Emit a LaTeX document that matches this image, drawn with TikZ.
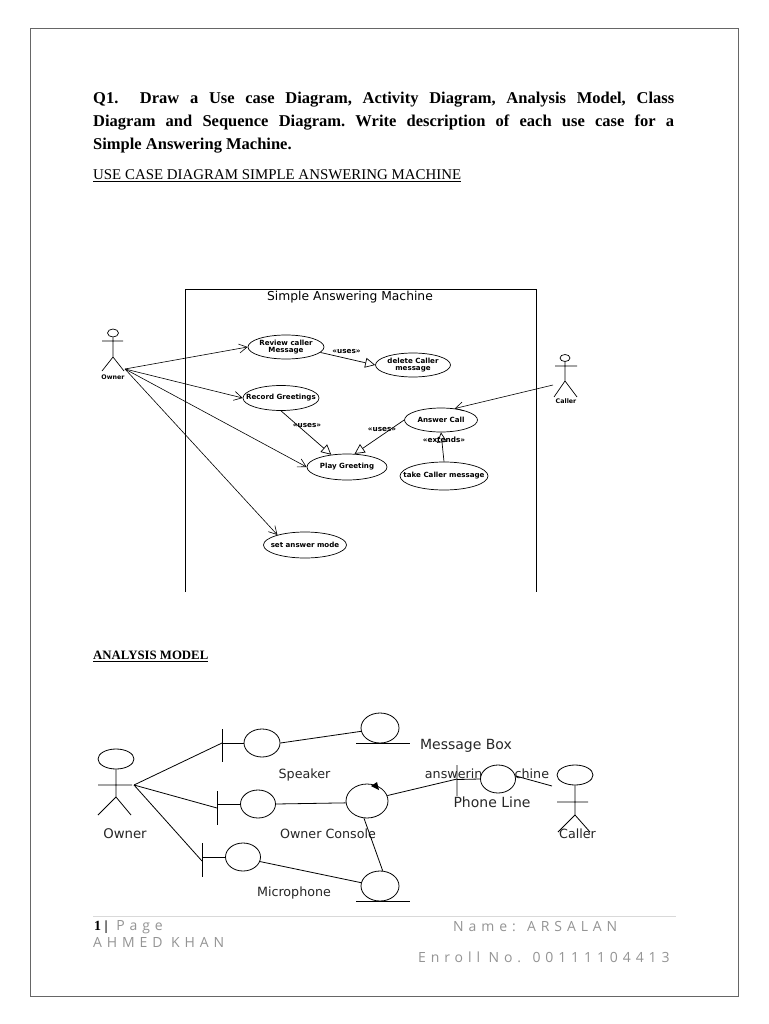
\documentclass[tikz,border=0pt]{standalone}
\usepackage{fontspec}
\usetikzlibrary{shapes.geometric,arrows.meta}
\setmainfont{Liberation Serif}
\newfontfamily\djvu{DejaVu Sans}
\newfontfamily\spacedfont[LetterSpace=35]{Open Sans}
\definecolor{footgray}{gray}{0.58}
\tikzset{
 uc/.style={draw,ellipse,inner sep=0pt,line width=0.7pt,fill=white},
 uctext/.style={inner sep=0pt,align=center,font=\djvu\bfseries\fontsize{7.1}{7.2}\selectfont},
 umllabel/.style={inner sep=0pt,font=\djvu\bfseries\fontsize{7.3}{8}\selectfont},
 actorlabel/.style={inner sep=0pt,font=\djvu\bfseries\fontsize{6.3}{7}\selectfont},
 lbl/.style={inner sep=0pt,font=\djvu\fontsize{14}{16}\selectfont,text=black!85},
 lbls/.style={inner sep=0pt,font=\djvu\fontsize{12.7}{14}\selectfont,text=black!85},
 thin line/.style={line width=0.7pt},
 rob/.style={draw,ellipse,inner sep=0pt,line width=0.8pt,fill=white},
 robl/.style={line width=0.8pt},
 openarrow/.style={-{Straight Barb[length=8pt,width=9pt]},line width=0.6pt},
 hollow/.style={-{Triangle[open,length=10pt,width=10pt,fill=white]},line width=0.7pt},
 foot/.style={inner sep=0pt,anchor=west,text=footgray,font=\spacedfont\fontsize{14}{15}\selectfont},
}
\begin{document}
\begin{tikzpicture}[x=1pt,y=-1pt]
\useasboundingbox (0,0) rectangle (768,1024);
\fill[white] (0,0) rectangle (768,1024);
\draw[black!60,line width=0.7pt] (30,28) rectangle (738,996);

% heading
\node[inner sep=0pt,anchor=north west,text width=581pt,align=justify,font=\bfseries\fontsize{16.5}{23.2}\selectfont] (q) at (93,91.5)
 {\frenchspacing Q1.\ \ Draw a Use case Diagram, Activity Diagram, Analysis Model, Class\linebreak Diagram and Sequence Diagram. Write description of each use case for a\linebreak Simple Answering Machine.};
\node[inner sep=0pt,anchor=west,font=\fontsize{14.9}{16}\selectfont] (h1) at (93,175.5) {\underline{USE CASE DIAGRAM SIMPLE ANSWERING MACHINE}};
\node[inner sep=0pt,anchor=west,font=\bfseries\fontsize{12.8}{14}\selectfont] (h2) at (93,656) {\underline{ANALYSIS MODEL}};

% use case frame
\draw[line width=0.9pt] (185.5,592) -- (185.5,289.5) -- (536,289.5) -- (536,592);
\node[inner sep=0pt,font=\djvu\fontsize{12.3}{13}\selectfont] (sys) at (350,297.5) {Simple Answering Machine};

% owner actor, upper
\node[draw,ellipse,inner sep=0pt,minimum width=11pt,minimum height=8pt,line width=0.7pt] (oh) at (113,333) {};
\draw[thin line] (oh.south) -- (113,357) (102,341) -- (123,341) (102,371) -- (113,357) -- (124,371);
\node[actorlabel] (ol) at (113,377) {Owner};
\coordinate (ohand) at (125,369);

% caller actor, upper
\node[draw,ellipse,inner sep=0pt,minimum width=10pt,minimum height=7pt,line width=0.7pt] (ch) at (565,358) {};
\draw[thin line] (ch.south) -- (565,381) (555,366) -- (577,366) (554,397) -- (565,381) -- (577,397);
\node[actorlabel] (cl) at (566,401.5) {Caller};
\coordinate (chand) at (553,385);

% use cases
\node[uc,minimum width=76pt,minimum height=24pt,label={[uctext]center:{Review caller\\Message}}] (review) at (286,347) {};
\node[uc,minimum width=75pt,minimum height=24pt,label={[uctext]center:{delete Caller\\message}}] (delete) at (413,365) {};
\node[uc,minimum width=76pt,minimum height=25pt,label={[uctext]center:{Record Greetings}}] (record) at (281,398) {};
\node[uc,minimum width=80pt,minimum height=26pt,label={[uctext]center:{Play Greeting}}] (play) at (347,467) {};
\node[uc,minimum width=73pt,minimum height=24pt,label={[uctext]center:{Answer Call}}] (answer) at (441,420) {};
\node[uc,minimum width=88pt,minimum height=28pt,label={[uctext]center:{take Caller message}}] (take) at (444,476) {};
\node[uc,minimum width=83pt,minimum height=26pt,label={[uctext]center:{set answer mode}}] (setmode) at (305,545) {};

\draw[openarrow] (ohand) -- (review.west);
\draw[openarrow] (ohand) -- (record.west);
\draw[openarrow] (ohand) -- (play.west);
\draw[openarrow] (ohand) -- (setmode.160);
\draw[openarrow] (chand) -- (answer.40);
\draw[hollow] (review.-9) -- (delete.west);
\draw[hollow] (record.-90) -- (play.142);
\draw[hollow] (answer.west) -- (play.60);
\draw[hollow] (take.north) -- (answer.south);
\node[umllabel] (u1) at (346.5,352) {«uses»};
\node[umllabel] (u2) at (307,426) {«uses»};
\node[umllabel] (u3) at (382,430) {«uses»};
\node[umllabel] (u4) at (444,439.5) {«extends»};

% analysis model: owner
\node[rob,minimum width=36pt,minimum height=20pt] (aoh) at (116,759) {};
\draw[robl] (aoh.south) -- (116,797) (98,785) -- (132,785) (98,815) -- (116,797) -- (131,815);
\coordinate (ahub) at (134,785);
\node[lbl,font=\djvu\fontsize{13.3}{15}\selectfont] (aol) at (125,834) {Owner};

% boundaries
\node[rob,minimum width=36pt,minimum height=28pt] (spk) at (262,743) {};
\draw[robl] (222,729) -- (222,762) (222,743) -- (spk.west);
\coordinate (spkb) at (222,743);
\node[rob,minimum width=35pt,minimum height=28pt] (con) at (258,804) {};
\draw[robl] (217,791) -- (217,825) (217,804) -- (con.west);
\coordinate (conb) at (217,808);
\node[rob,minimum width=35pt,minimum height=28pt] (mic) at (243,857) {};
\draw[robl] (202,843) -- (202,877) (202,857) -- (mic.west);
\coordinate (micb) at (202,861);
\draw[robl] (ahub) -- (spkb);
\draw[robl] (ahub) -- (conb);
\draw[robl] (ahub) -- (micb);

% entities and control
\node[rob,minimum width=38pt,minimum height=30pt] (msg) at (380,728) {};
\draw[robl] (356,743) -- (410,743);
\node[rob,minimum width=38pt,minimum height=30pt] (ent) at (380,886) {};
\draw[robl] (356,901) -- (410,901);
\node[rob,minimum width=42pt,minimum height=34pt] (ctl) at (367,801) {};
\fill (377,782) -- (379,790) -- (371,786) -- cycle;

% labels
\node[lbl] (lmsg) at (466,745.5) {Message Box};
\node[lbls] (lspk) at (304.5,774.5) {Speaker};
\node[lbls] (lcon) at (328,834) {Owner Console};
\node[lbls] (lmic) at (294,893) {Microphone};
\node[lbls] (lans) at (487,774.5) {answering machine};

% phone line boundary
\node[rob,minimum width=35pt,minimum height=28pt] (phone) at (498,779) {};
\draw[robl] (457,765) -- (457,796) (457,779.5) -- (phone.west);
\coordinate (phoneb) at (457,779);
\node[lbl] (lph) at (492,802.5) {Phone Line};

% caller, lower
\node[rob,minimum width=36pt,minimum height=20pt] (ach) at (575,775) {};
\draw[robl] (ach.south) -- (575,815) (557,802) -- (588,802) (558,832) -- (575,815) -- (590,832);
\coordinate (ahand) at (552,786);
\node[lbls] (acl) at (577.5,834) {Caller};

\draw[robl] (spk.east) -- (msg.-170);
\draw[robl] (con.east) -- (ctl.185);
\draw[robl] (mic.-15) -- (ent.170);
\draw[robl] (ctl.-100) -- (ent.80);
\draw[robl] (ctl.15) -- (phoneb);
\draw[robl] (phone.10) -- (ahand);

% footer
\draw[black!15,line width=0.8pt] (93,916) -- (676,916);
\node[foot] (pg) at (94,927) {\textcolor{black}{\rmfamily\bfseries\fontsize{14}{15}\selectfont 1 |} Page};
\node[foot] (nm) at (453,927) {Name: ARSALAN};
\node[foot] (ah) at (93,942) {AHMED KHAN};
\node[foot] (en) at (418,957) {Enroll No. 00111104413};
\end{tikzpicture}
\end{document}
